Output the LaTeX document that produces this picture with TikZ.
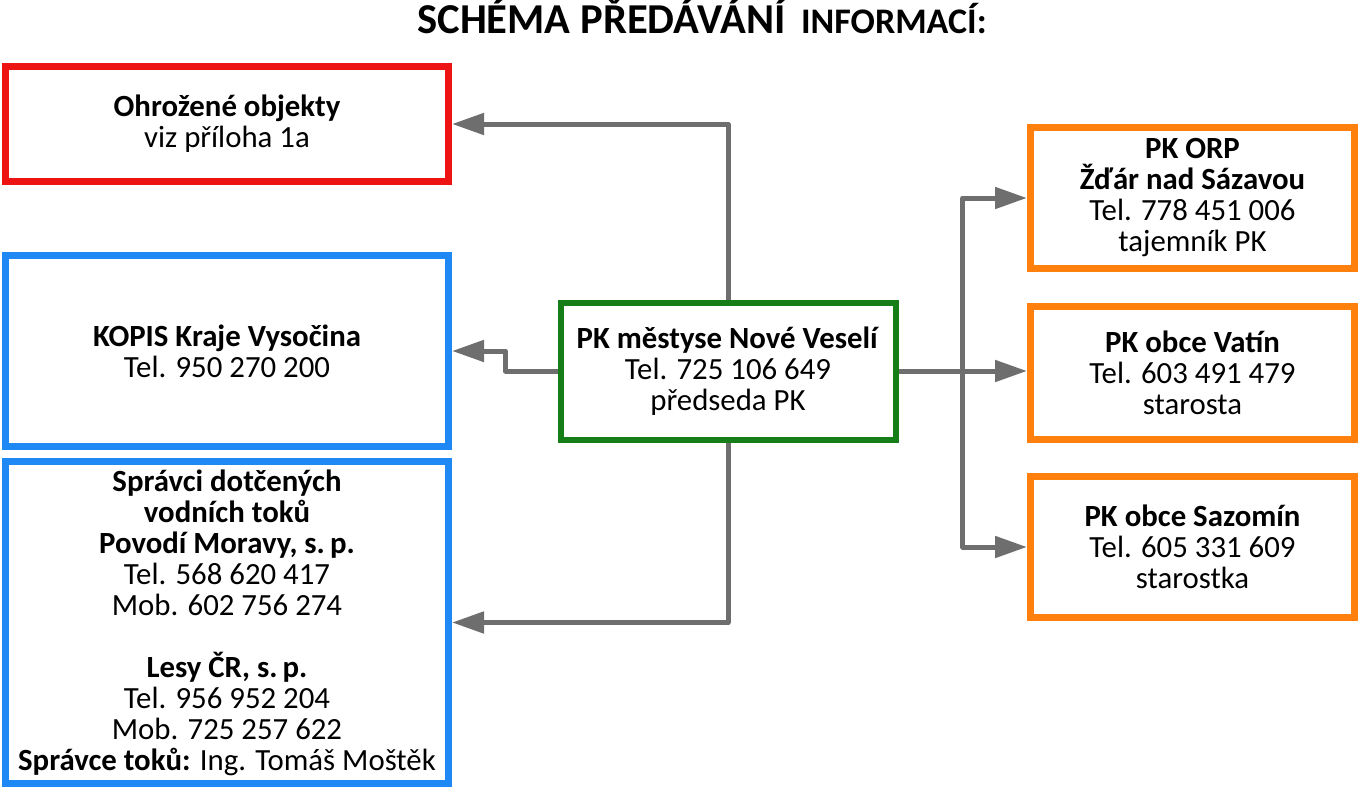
\documentclass[tikz,border=0pt]{standalone}
\usepackage{fontspec}
\setmainfont{Carlito}
\usetikzlibrary{arrows.meta}

\definecolor{boxred}{RGB}{238,20,20}
\definecolor{boxblue}{RGB}{30,136,245}
\definecolor{boxgreen}{RGB}{22,126,22}
\definecolor{boxorange}{RGB}{255,128,12}
\definecolor{conngray}{RGB}{110,110,110}

\begin{document}
\begin{tikzpicture}[x=0.5pt, y=-0.5pt,
        box/.style={draw, line width=3.5pt, align=center, inner sep=0pt,
            font=\fontsize{15.4}{15.5}\selectfont},
        conn/.style={draw=conngray, line width=2.5pt, line join=round,
            -{Triangle[length=16pt, width=10.5pt]}}]
        \useasboundingbox (0,0) rectangle (1359,787);

        \node[anchor=base, font=\bfseries\fontsize{21.3}{22}\selectfont] (title) at (702,33)
            {SCHÉMA PŘEDÁVÁNÍ\hspace{3pt} {\fontsize{18}{18}\selectfont INFORMACÍ:}};

        % left column
        \node[box, draw=boxred, minimum width=221.5pt, minimum height=57.5pt] (obj) at (227,124)
            {\textbf{Ohrožené objekty}\\viz příloha 1a};
        \node[box, draw=boxblue, minimum width=221.5pt, minimum height=95.5pt] (kopis) at (227,351)
            {\textbf{KOPIS Kraje Vysočina}\\Tel. 950 270 200};
        \node[box, draw=boxblue, minimum width=221.5pt, minimum height=161pt] (spravci) at (227,622.5)
            {\textbf{Správci dotčených}\\\textbf{vodních toků}\\\textbf{Povodí Moravy, s.\,p.}\\
             Tel. 568 620 417\\Mob. 602 756 274\\[15.5pt]
             \textbf{Lesy ČR, s.\,p.}\\Tel. 956 952 204\\Mob. 725 257 622\\
             \textbf{Správce toků:} Ing. Tomáš Moštěk};

        % centre
        \node[box, draw=boxgreen, line width=3pt, minimum width=167.5pt, minimum height=68.5pt] (pk) at (728,371)
            {\textbf{PK městyse Nové Veselí}\\Tel. 725 106 649\\předseda PK};

        % right column
        \node[box, draw=boxorange, minimum width=162pt, minimum height=70.5pt] (orp) at (1192.5,198)
            {\textbf{PK ORP}\\\textbf{Žďár nad Sázavou}\\Tel. 778 451 006\\tajemník PK};
        \node[box, draw=boxorange, minimum width=162pt, minimum height=66.5pt] (vatin) at (1192.5,373)
            {\textbf{PK obce Vatín}\\Tel. 603 491 479\\starosta};
        \node[box, draw=boxorange, minimum width=162pt, minimum height=70.5pt] (sazomin) at (1192.5,547)
            {\textbf{PK obce Sazomín}\\Tel. 605 331 609\\starostka};

        % connectors
        \draw[conn] (pk.north) |- (obj.east);
        \draw[conn] (pk.west) -- ++(-52,0) |- (kopis.east);
        \draw[conn] (pk.south) |- (spravci.east);
        \draw[conn] (pk.east) -- (pk.east -| vatin.west);
        \path (pk.east) -- (pk.east -| vatin.west) coordinate[pos=0.5] (fork);
        \draw[conn] (fork) |- (orp.west);
        \draw[conn] (fork) |- (sazomin.west);
    \end{tikzpicture}
\end{document}
